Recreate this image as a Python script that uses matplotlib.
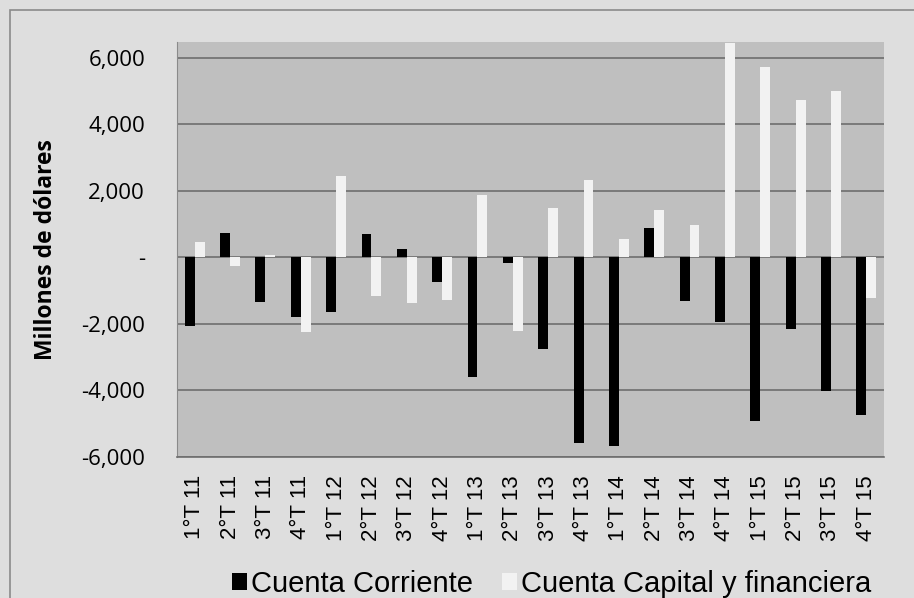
import matplotlib
matplotlib.use('Agg')
import matplotlib.pyplot as plt
import matplotlib.patches as patches
import numpy as np

quarters = ['1°T 11', '2°T 11', '3°T 11', '4°T 11',
            '1°T 12', '2°T 12', '3°T 12', '4°T 12',
            '1°T 13', '2°T 13', '3°T 13', '4°T 13',
            '1°T 14', '2°T 14', '3°T 14', '4°T 14',
            '1°T 15', '2°T 15', '3°T 15', '4°T 15']

cuenta_corriente = [-2050, 740, -1330, -1790,
                    -1650, 700, 260, -730,
                    -3610, -160, -2740, -5570,
                    -5670, 890, -1310, -1930,
                    -4930, -2160, -4010, -4730]

cuenta_capital = [470, -270, 80, -2250,
                  2450, -1170, -1370, -1270,
                  1880, -2200, 1470, 2310,
                  560, 1420, 960, 6450,
                  5720, 4730, 5000, -1220]

yticks = [-6000, -4000, -2000, 0, 2000, 4000, 6000]
ytick_labels = ['-6,000', '-4,000', '-2,000', '-', '2,000', '4,000', '6,000']

fig = plt.figure(figsize=(9.14, 5.98), dpi=100)
fig.patch.set_facecolor('#DEDEDE')
ax = fig.add_axes([177/914, 1-457/598, (884-177)/914, (457-42)/598])
ax.set_facecolor('#BFBFBF')

x = np.arange(len(quarters))
w = 0.28
ax.bar(x - w/2, cuenta_corriente, width=w, color='black', label='Cuenta Corriente', zorder=3)
ax.bar(x + w/2, cuenta_capital, width=w, color='#F2F2F2', label='Cuenta Capital y financiera', zorder=3)

ax.set_xlim(-0.5, len(quarters) - 0.5)
ax.set_ylim(-6000, 6470)
ax.set_yticks(yticks)
ax.set_yticklabels(ytick_labels, family='Open Sans', fontsize=16)
ax.set_xticks(x)
ax.set_xticklabels(quarters, rotation=90, family='Liberation Sans', fontsize=16)
ax.tick_params(axis='y', length=0, pad=23)
ax.tick_params(axis='x', length=0, pad=13)
ax.grid(axis='y', color='#6E6E6E', linewidth=1.2, zorder=1)
ax.set_axisbelow(True)
for s in ['top', 'right']:
    ax.spines[s].set_visible(False)
ax.spines['left'].set_color('#8A8A8A')
ax.spines['bottom'].set_color('#6E6E6E')
ax.spines['bottom'].set_linewidth(1.2)
ax.set_ylabel('Millones de dólares', family='Open Sans', fontweight='bold', fontsize=16.5,
              va='center')
ax.yaxis.set_label_coords(-131/707, 0.5)

fig.legend(loc='lower left', bbox_to_anchor=(232/914, 0.0), ncol=2, frameon=False,
           prop={'family': 'Liberation Sans', 'size': 21},
           handlelength=0.5, handleheight=0.5, handletextpad=0.15,
           columnspacing=1.0, borderpad=0, borderaxespad=0)

fig.patches.append(patches.Rectangle((10/914, -0.1), 1.0, 1.1 - 10/598,
                                     transform=fig.transFigure, fill=False,
                                     edgecolor='#8A8A8A', linewidth=1.2))

plt.savefig('out.png', dpi=100, facecolor=fig.get_facecolor())
